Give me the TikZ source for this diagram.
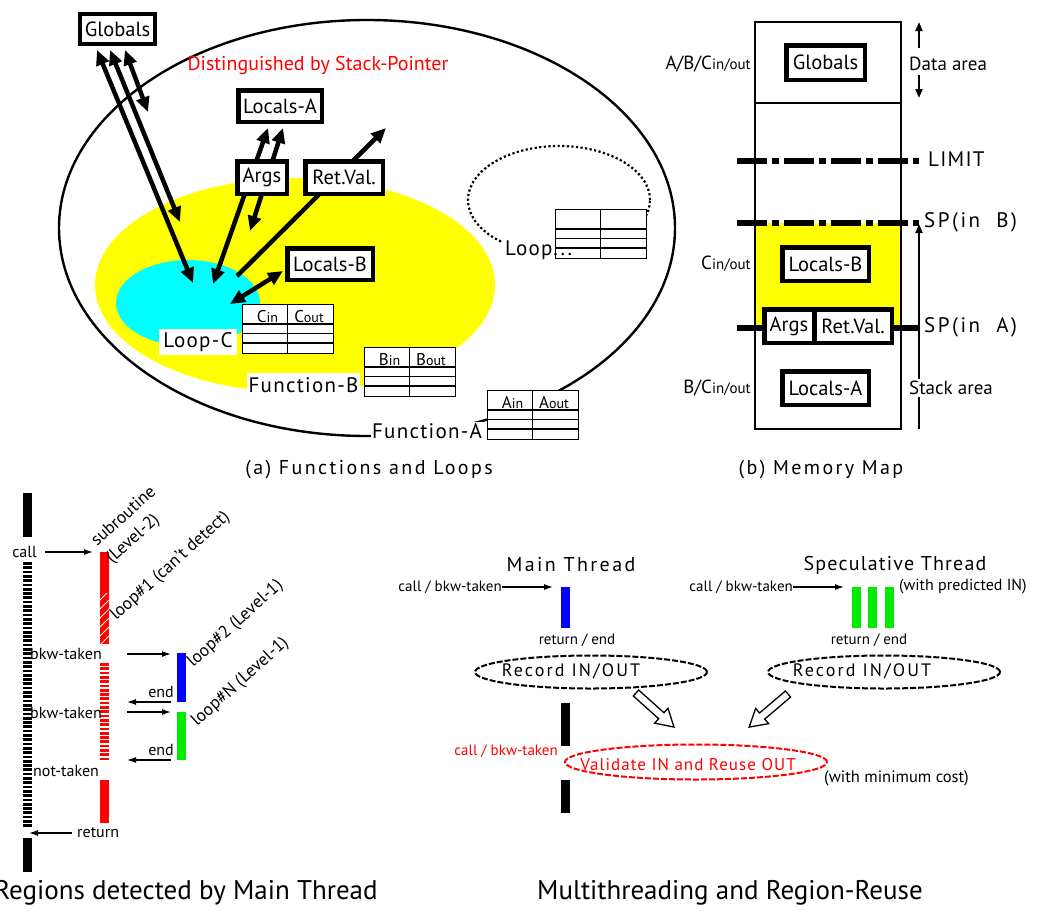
\documentclass[tikz,border=0pt]{standalone}
\usepackage{fontspec}
\setmainfont{PT Sans}
\newfontfamily\spc[LetterSpace=6]{PT Sans}
\newfontfamily\spcw[LetterSpace=12]{PT Sans}
\usetikzlibrary{arrows.meta}
\newcommand{\fsz}[1]{\fontsize{#1}{#1}\selectfont}
\definecolor{ylw}{RGB}{255,255,0}
\definecolor{cyn}{RGB}{0,255,255}
\definecolor{rd}{RGB}{255,0,0}
\definecolor{bl}{RGB}{0,0,255}
\definecolor{grn}{RGB}{0,235,0}
\tikzset{
  bigtip/.tip={Triangle[length=15pt,width=13pt]},
  vbox/.style={draw, line width=4.5pt, fill=white, inner sep=0pt, font=\fsz{20.5}},
  fatboth/.style={line width=4.5pt, bigtip-bigtip},
  fatone/.style={line width=4.5pt, -bigtip},
  flow/.style={line width=1.2pt, -{Latex[length=9pt,width=6pt]}},
  vtip/.style={line width=2pt, -{Triangle[length=9pt,width=7pt]}},
  tline/.style={line width=1.3pt},
  dashring/.style={line width=2pt, dash pattern=on 6pt off 2pt},
  bar/.style={line width=9pt},
  hollow/.style={draw, line width=1.3pt, fill=white, line join=miter},
  lbl/.style={font=\fsz{16}, inner sep=1pt},
  rot/.style={font=\fsz{17.5}, rotate=42, anchor=base west, inner sep=0pt},
  spaced/.style={font=\spc\fsz{21}, inner sep=1pt},
  captxt/.style={font=\spcw\fsz{20}, inner sep=0pt}
}
% in/out table: frame, three row rules and the column rule
\newcommand{\iotab}[4]{%
  \node[draw, tline, fill=#4, minimum width=91pt, minimum height=49pt,
        inner sep=0pt, anchor=north west] (#1) at (#2,#3) {};
  \draw[tline] ({#2},{#3+20}) -- ++(91,0)
               ({#2},{#3+29.5}) -- ++(91,0)
               ({#2},{#3+39}) -- ++(91,0)
               ({#2+45.5},{#3}) -- ++(0,49);}
\newcommand{\iohead}[4]{%
  \node[font=\fsz{17}, anchor=base, inner sep=0pt] (#1-in) at ({#2+25.5},{#3+18.5}) {#4\fsz{14}in};
  \node[font=\fsz{17}, anchor=base, inner sep=0pt] (#1-out) at ({#2+67},{#3+18.5}) {#4\fsz{14}out};}
\begin{document}
\begin{tikzpicture}[x=1pt,y=-1pt]
\useasboundingbox (0,0) rectangle (1043,910);

% ================= (a) Functions and Loops =================
\draw[line width=2.4pt] (367,228) ellipse [x radius=308pt, y radius=208pt];
\fill[ylw] (295,285) ellipse [x radius=200pt, y radius=107pt];
\fill[cyn] (188,303) ellipse [x radius=72pt, y radius=43pt];
\draw[line width=2.2pt, dash pattern=on 2.2pt off 2.4pt] (559,200) ellipse [x radius=91pt, y radius=54pt];

\node[text=rd, font=\fsz{20}, inner sep=0pt] (dsp) at (318,65) {Distinguished by Stack-Pointer};

% arrow end points
\coordinate (gA) at (97,50);   \coordinate (cA) at (193,283);
\coordinate (gB) at (110,50);  \coordinate (cB) at (180,222);
\coordinate (gC) at (125,50);  \coordinate (cC) at (148,112);
\coordinate (laA) at (268,128); \coordinate (lcA) at (213,284);
\coordinate (laB) at (283,128); \coordinate (lcB) at (250,231);
\coordinate (rvT) at (386,128); \coordinate (rvS) at (237,276);
\coordinate (lbS) at (230,304); \coordinate (lbT) at (283,271);

\draw[fatboth] (gA) -- (cA);
\draw[fatboth] (gB) -- (cB);
\draw[fatboth] (gC) -- (cC);
\draw[fatboth] (lcA) -- (laA);
\draw[fatboth] (lcB) -- (laB);
\draw[fatone] (rvS) -- (rvT);
\draw[fatboth] (lbS) -- (lbT);

\node[vbox, minimum width=75pt, minimum height=30pt] (glbA) at (117.5,29) {Globals};
\node[vbox, minimum width=83.5pt, minimum height=31.5pt] (locAa) at (280,106) {Locals-A};
\node[vbox, minimum width=49.5pt, minimum height=32.5pt] (argsA) at (262,177.5) {Args};
\node[vbox, minimum width=77.5pt, minimum height=32.5pt] (retA) at (344,177.5) {Ret.Val.};
\node[vbox, minimum width=85.5pt, minimum height=31.5pt] (locBa) at (330,264) {Locals-B};

% loop labels and tables
\fill[white] (502,240) rectangle (556,261);
\iotab{tX}{555}{209}{white}
\node[spaced, anchor=west] (loopx) at (504,250) {Loop...};
\iotab{tC}{242}{304}{white}
\iohead{tC}{242}{304}{C}
\iotab{tB}{364}{347}{white}
\iohead{tB}{364}{347}{B}
\iotab{tA}{487}{390}{white}
\iohead{tA}{487}{390}{A}

\node[spaced, fill=white, minimum width=78pt, minimum height=26pt] (loopC) at (198,342) {Loop-C};
\node[spaced, fill=white, minimum width=113pt, minimum height=25pt] (funB) at (303.5,385) {Function-B};
\node[spaced, fill=white] (funA) at (427,431) {Function-A};

\node[captxt] (capA) at (369,470) {(a) Functions and Loops};

% ================= (b) Memory Map =================
\fill[ylw] (755,223) rectangle (901,328);
\draw[line width=1.5pt] (755,22) rectangle (901,429);
\draw[line width=1.5pt] (755,103) -- (901,103);

\draw[line width=6.5pt, dash pattern=on 30pt off 5pt on 7pt off 5pt] (737,161) -- (919,161);
\draw[line width=6.5pt, dash pattern=on 30pt off 5pt on 7pt off 5pt] (737,223) -- (919,223);
\draw[line width=6.5pt] (737,328) -- (918,328);

\node[vbox, minimum width=78.5pt, minimum height=34.5pt] (glbB) at (825.5,62.5) {Globals};
\node[vbox, minimum width=86.5pt, minimum height=33.5pt] (locBb) at (825.5,264) {Locals-B};
\node[vbox, minimum width=49.5pt, minimum height=33.5pt] (argsB) at (789,326) {Args};
\node[vbox, minimum width=77.5pt, minimum height=33.5pt] (retB) at (853,326) {Ret.Val.};
\node[vbox, minimum width=86.5pt, minimum height=33.5pt] (locAb) at (825.5,388) {Locals-A};

\node[anchor=east, inner sep=0pt, font=\fsz{19}] (abc) at (751,64) {A/B/C\fsz{15}in/out};
\node[anchor=east, inner sep=0pt, font=\fsz{19}] (cio) at (751,264) {C\fsz{15}in/out};
\node[anchor=east, inner sep=0pt, font=\fsz{19}] (bcio) at (751,388) {B/C\fsz{15}in/out};

\coordinate (da1) at (919,48); \coordinate (da2) at (919,22);
\coordinate (da3) at (919,75); \coordinate (da4) at (919,98);
\draw[vtip] (da1) -- (da2);
\draw[vtip] (da3) -- (da4);
\node[anchor=west, inner sep=0pt, font=\fsz{19}] (darea) at (909,64) {Data area};

\coordinate (sa0) at (919,429); \coordinate (sa1) at (919,224);
\draw[vtip] (sa0) -- (sa1);
\node[anchor=west, fill=white, inner sep=2pt, font=\fsz{19}] (sarea) at (907,388) {Stack area};

\node[anchor=west, spaced, inner sep=0pt] (limit) at (928,159) {LIMIT};
\node[anchor=west, font=\spcw\fsz{21}, inner sep=0pt] (spb) at (924,222) {SP(in\ \ B)};
\node[anchor=west, font=\spcw\fsz{21}, inner sep=0pt] (spa) at (924,327) {SP(in\ \ A)};

\node[captxt] (capB) at (821,470) {(b) Memory Map};

% ================= Regions detected by Main Thread =================
\draw[bar] (27.5,493) -- (27.5,537);
\draw[bar, dash pattern=on 2.7pt off 1.6pt] (27.5,562) -- (27.5,828);
\draw[bar] (27.5,838) -- (27.5,872);

\draw[bar, rd] (104.5,552) -- (104.5,593);
\fill[rd] (100,593) rectangle (109,644);
\begin{scope}
  \clip (100,593) rectangle (109,644);
  \foreach \k in {0,...,6}
    \draw[white, line width=0.8pt] (100,{600+\k*9}) -- (109,{591+\k*9});
\end{scope}
\draw[bar, rd, dash pattern=on 2.7pt off 1.6pt] (104.5,663) -- (104.5,760);
\draw[bar, rd] (104.5,780) -- (104.5,823);
\draw[bar, bl] (181.5,653) -- (181.5,702);
\draw[bar, grn] (181.5,712) -- (181.5,760);

\node[lbl] (call) at (24.5,552) {call};
\coordinate (callS) at (45,552);
\coordinate (callT) at (93,552);
\draw[flow] (callS) -- (callT);
\node[lbl, anchor=west] (bk1) at (29,654) {bkw-taken};
\node[lbl, anchor=west] (bk2) at (29,713) {bkw-taken};
\node[lbl, anchor=west] (nt) at (32,771) {not-taken};
\node[lbl, anchor=west] (ret) at (76,833) {return};
\node[lbl] (end1) at (161,692) {end};
\node[lbl] (end2) at (161,750) {end};

\coordinate (b1s) at (127,654); \coordinate (b1t) at (171,654);
\coordinate (e1s) at (171,702); \coordinate (e1t) at (127,702);
\coordinate (b2s) at (127,712); \coordinate (b2t) at (171,712);
\coordinate (e2s) at (171,760); \coordinate (e2t) at (127,760);
\coordinate (rts) at (72,833);  \coordinate (rtt) at (29,833);
\draw[flow] (b1s) -- (b1t);
\draw[flow] (e1s) -- (e1t);
\draw[flow] (b2s) -- (b2t);
\draw[flow] (e2s) -- (e2t);
\draw[flow] (rts) -- (rtt);

\node[rot] (sub1) at (97,547) {subroutine};
\node[rot] (sub2) at (112,564) {(Level-2)};
\node[rot] (lp1) at (116,621) {loop\#1 (can’t detect)};
\node[rot] (lp2) at (193,668) {loop\#2 (Level-1)};
\node[rot] (lpn) at (197,727) {loop\#N (Level-1)};

\node[font=\fsz{27}, inner sep=0pt] (capC) at (186,893) {Regions detected by Main Thread};

% ================= Multithreading and Region-Reuse =================
\node[font=\spcw\fsz{20}, inner sep=0pt] (mth) at (571,565) {Main Thread};
\node[font=\spc\fsz{20}, inner sep=0pt] (sth) at (895,565) {Speculative Thread};

\node[font=\fsz{15}, anchor=east, inner sep=0pt] (cm) at (502,587) {call / bkw-taken};
\coordinate (cmT) at (553,587);
\draw[flow] (cm.east) -- (cmT);
\draw[bar, bl] (565.5,587) -- (565.5,628);
\node[font=\fsz{15}, inner sep=0pt] (rem) at (577,640) {return / end};

\node[font=\fsz{15}, anchor=east, inner sep=0pt] (cs) at (793,587) {call / bkw-taken};
\coordinate (csT) at (844,587);
\draw[flow] (cs.east) -- (csT);
\draw[bar, grn] (856.5,587) -- (856.5,628);
\draw[bar, grn] (872.5,587) -- (872.5,628);
\draw[bar, grn] (889.5,587) -- (889.5,628);
\node[font=\fsz{16}, anchor=west, inner sep=0pt] (pin) at (899,587) {(with predicted IN)};
\node[font=\fsz{15}, inner sep=0pt] (res) at (869,640) {return / end};

\draw[dashring] (591,672) ellipse [x radius=116pt, y radius=16.5pt];
\node[font=\spcw\fsz{18}, inner sep=0pt] (rec1) at (571,671) {Record IN/OUT};
\draw[dashring] (884,672) ellipse [x radius=116pt, y radius=16.5pt];
\node[font=\spcw\fsz{18}, inner sep=0pt] (rec2) at (862,671) {Record IN/OUT};

\draw[bar] (565.5,703) -- (565.5,746);
\draw[bar] (565.5,780) -- (565.5,813);

\begin{scope}[shift={(636,693)}, rotate=-41.9]
  \draw[hollow] (0,4) -- (34,4) -- (34,10) -- (51,0) -- (34,-10) -- (34,-4) -- (0,-4) -- cycle;
\end{scope}
\begin{scope}[shift={(788,694)}, rotate=-139.6]
  \draw[hollow] (0,4) -- (34,4) -- (34,10) -- (51,0) -- (34,-10) -- (34,-4) -- (0,-4) -- cycle;
\end{scope}

\draw[dashring, rd] (696,762) ellipse [x radius=131pt, y radius=17.5pt];
\node[font=\spc\fsz{17}, text=rd, inner sep=0pt] (val) at (688,765) {Validate IN and Reuse OUT};
\node[font=\fsz{15}, text=rd, anchor=east, inner sep=0pt] (cr) at (558,751) {call / bkw-taken};
\node[font=\fsz{16.5}, anchor=west, inner sep=0pt] (mc) at (824,778) {(with minimum cost)};

\node[font=\fsz{27}, inner sep=0pt] (capD) at (730,893) {Multithreading and Region-Reuse};
\end{tikzpicture}
\end{document}
